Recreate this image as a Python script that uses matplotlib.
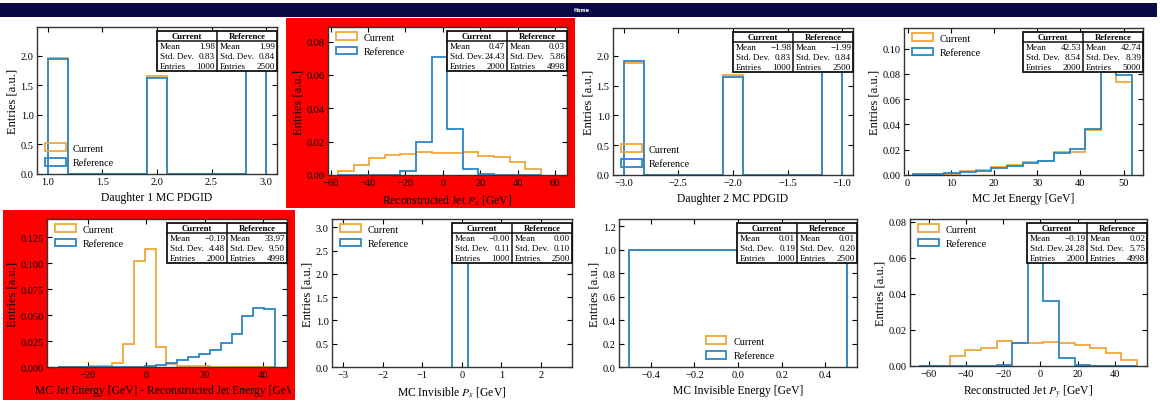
import matplotlib.pyplot as plt
from matplotlib.patches import Rectangle
from matplotlib.transforms import Bbox, TransformedBbox

plt.rcParams['font.family'] = ['Liberation Serif', 'DejaVu Serif']
plt.rcParams['mathtext.fontset'] = 'stix'

W, H = 1160, 402
ORANGE = '#F0A83A'
BLUE = '#2B86C5'

# --- datos de los histogramas (densidad) ---
pdg1_edges = [1.0, 1.182, 1.364, 1.545, 1.727, 1.909, 2.091, 2.273, 2.455, 2.636, 2.818, 3.0]
pdg1_cur = [1.97, 0, 0, 0, 0, 1.66, 0, 0, 0, 0, 1.87]
pdg1_ref = [1.95, 0, 0, 0, 0, 1.63, 0, 0, 0, 0, 1.92]

px_edges = [-56.1, -47.75, -39.4, -31.05, -22.7, -14.35, -6.0, 2.35, 10.7, 19.05, 27.4, 35.75, 44.1, 52.45]
px_cur = [0.0022, 0.0062, 0.0102, 0.0120, 0.0126, 0.0140, 0.0130, 0.0134, 0.0136, 0.0116, 0.0110, 0.0076, 0.0036]
px_ref = [0, 0, 0, 0.0002, 0.0026, 0.0195, 0.0710, 0.0275, 0.0035, 0.0003, 0, 0, 0]

pdg2_edges = [-3.0, -2.818, -2.636, -2.455, -2.273, -2.091, -1.909, -1.727, -1.545, -1.364, -1.182, -1.0]
pdg2_cur = [1.87, 0, 0, 0, 0, 1.675, 0, 0, 0, 0, 1.965]
pdg2_ref = [1.92, 0, 0, 0, 0, 1.64, 0, 0, 0, 0, 1.95]

ejet_edges = [1.3, 4.9, 8.5, 12.2, 15.8, 19.4, 23.0, 26.6, 30.2, 33.8, 37.5, 41.1, 44.7, 48.3, 51.9]
ejet_cur = [0.0003, 0.0004, 0.0010, 0.0030, 0.0036, 0.0062, 0.0082, 0.0102, 0.0110, 0.0180, 0.0180, 0.0355, 0.0889, 0.0735]
ejet_ref = [0.0005, 0.0004, 0.0014, 0.0024, 0.0033, 0.0056, 0.0072, 0.0092, 0.0113, 0.0172, 0.0205, 0.0368, 0.0860, 0.0790]

diff_edges = [-30.4, -26.7, -22.9, -19.2, -15.5, -11.8, -8.0, -4.3, -0.6, 3.2, 6.9,
              10.6, 14.3, 18.0, 21.8, 25.5, 29.2, 32.9, 36.7, 40.4, 44.1]
diff_cur = [0.0002, 0.0003, 0.0004, 0.0006, 0.0012, 0.0042, 0.0220, 0.1020, 0.1140, 0.0195,
            0.0025, 0.0012, 0.0006, 0.0005, 0.0004, 0.0004, 0.0002, 0.0002, 0.0001, 0.0001]
diff_ref = [0, 0, 0, 0, 0, 0, 0, 0, 0.0005, 0.0020,
            0.0040, 0.0065, 0.0095, 0.0130, 0.0160, 0.0235, 0.0320, 0.0490, 0.0570, 0.0560]

invpx_edges = [-0.25, 0.15]
invpx_cur = [2.5]
invpx_ref = [2.5]

inve_edges = [-0.5, 0.5]
inve_cur = [1.0]
inve_ref = [1.0]

py_edges = [-65.6, -57.2, -48.8, -40.4, -32.0, -23.6, -15.2, -6.8, 1.6, 10.0, 18.4, 26.8, 35.2, 43.6, 52.0]
py_cur = [0, 0, 0.0055, 0.0087, 0.0100, 0.0136, 0.0127, 0.0128, 0.0133, 0.0130, 0.0116, 0.0101, 0.0070, 0.0033]
py_ref = [0, 0, 0, 0, 0, 0.0008, 0.0127, 0.0660, 0.0363, 0.0044, 0.0005, 0, 0, 0]

# estadisticas (media, desviacion, entradas)
stats_labels = ['Mean', 'Std. Dev.', 'Entries']
stats_cur = [['1.98', '0.83', '1000'], ['0.47', '24.43', '2000'], ['-1.98', '0.83', '1000'],
             ['42.53', '8.54', '2000'], ['-0.19', '4.48', '2000'], ['-0.00', '0.11', '1000'],
             ['0.01', '0.19', '1000'], ['-0.19', '24.28', '2000']]
stats_ref = [['1.99', '0.84', '2500'], ['0.03', '5.86', '4998'], ['-1.99', '0.84', '2500'],
             ['42.74', '8.39', '5000'], ['33.97', '9.50', '4998'], ['0.00', '0.10', '2500'],
             ['0.01', '0.20', '2500'], ['0.02', '5.75', '4998']]

xlabels = ['Daughter 1 MC PDGID', r'Reconstructed Jet $P_x$ [GeV]', 'Daughter 2 MC PDGID',
           'MC Jet Energy [GeV]', 'MC Jet Energy [GeV] - Reconstructed Jet Energy [GeV]',
           r'MC Invisible $P_x$ [GeV]', 'MC Invisible Energy [GeV]', r'Reconstructed Jet $P_y$ [GeV]']

hists = [(pdg1_edges, pdg1_cur, pdg1_ref), (px_edges, px_cur, px_ref),
         (pdg2_edges, pdg2_cur, pdg2_ref), (ejet_edges, ejet_cur, ejet_ref),
         (diff_edges, diff_cur, diff_ref), (invpx_edges, invpx_cur, invpx_ref),
         (inve_edges, inve_cur, inve_ref), (py_edges, py_cur, py_ref)]

# caja de cada eje en pixeles: izquierda, derecha, arriba, abajo
boxes = [(37, 277, 28, 175), (328, 567, 28, 176), (613, 853, 29, 176), (904, 1143, 29, 176),
         (47, 287, 220, 368), (332, 572, 220, 368), (619, 857, 220, 368), (910, 1147, 220, 367)]
xlims = [(0.9, 3.1), (-61.4, 66.4), (-3.098, -0.902), (-0.85, 54.5),
         (-34.0, 48.2), (-3.29, 2.79), (-0.546, 0.546), (-70.2, 57.4)]
ylims = [2.49, 0.0887, 2.465, 0.1164, 0.1427, 3.18, 1.263, 0.0815]
legend_locs = ['lower left', 'upper left', 'lower left', 'upper left',
               'upper left', 'upper left', 'lower center', 'upper left']

fig = plt.figure(figsize=(W / 100, H / 100), dpi=100)
fig.patch.set_facecolor('white')


def fig_rect(x0, y0, x1, y1):
    # pixeles (origen arriba-izquierda) -> fraccion de figura
    return [x0 / W, 1 - y1 / H, (x1 - x0) / W, (y1 - y0) / H]


# barra de navegacion
r = fig_rect(0, 4, 1157, 18)
fig.patches.append(Rectangle((r[0], r[1]), r[2], r[3], transform=fig.transFigure,
                             fc='#080a45', ec='none', zorder=-1))
fig.text(582 / W, 1 - 10 / H, 'Home', color='white', fontsize=3.5, ha='center', va='center',
         family='DejaVu Sans', fontweight='bold')

# fondos rojos (paneles con diferencias)
for (x0, y0, x1, y1) in [(286, 19, 575, 209), (3, 211, 295, 401)]:
    r = fig_rect(x0, y0, x1, y1)
    fig.patches.append(Rectangle((r[0], r[1]), r[2], r[3], transform=fig.transFigure,
                                 fc='#FF0000', ec='none', zorder=-1))


def stats_table(ax, cur, ref):
    bb = ax.get_position()
    w, h = 120 / W, 40 / H
    tax = fig.add_axes([bb.x1 - w, bb.y1 - 4 / H - h, w, h], zorder=5)
    tax.set_xlim(0, 1)
    tax.set_ylim(0, 1)
    tax.axis('off')
    tax.add_patch(Rectangle((0, 0), 1, 1, fc='white', ec='#111111', lw=1.3, clip_on=False))
    tax.plot([0.5, 0.5], [0, 1], color='#111111', lw=1.1, clip_on=False)
    tax.plot([0, 1], [0.75, 0.75], color='#111111', lw=1.1, clip_on=False)
    tax.text(0.25, 0.875, 'Current', ha='center', va='center', fontsize=6.3, fontweight='bold')
    tax.text(0.75, 0.875, 'Reference', ha='center', va='center', fontsize=6.3, fontweight='bold')
    for i, lab in enumerate(stats_labels):
        y = 0.625 - 0.25 * i
        tax.text(0.025, y, lab, ha='left', va='center', fontsize=6.6)
        tax.text(0.485, y, cur[i].replace('-', '\u2212'), ha='right', va='center', fontsize=6.6)
        tax.text(0.525, y, lab, ha='left', va='center', fontsize=6.6)
        tax.text(0.985, y, ref[i].replace('-', '\u2212'), ha='right', va='center', fontsize=6.6)


leg_kw = dict(frameon=False, fontsize=7.3, handlelength=2.05, handleheight=0.8,
              labelspacing=0.5, handletextpad=0.7, borderaxespad=0.4)

for k in range(8):
    x0, x1, y0, y1 = boxes[k]
    ax = fig.add_axes(fig_rect(x0, y0, x1, y1), zorder=1)
    ax.set_facecolor('white')
    edges, cur, ref = hists[k]
    ax.hist(edges[:-1], bins=edges, weights=cur, histtype='step', color=ORANGE, lw=1.3, label='Current')
    ax.hist(edges[:-1], bins=edges, weights=ref, histtype='step', color=BLUE, lw=1.3, label='Reference')
    ax.set_xlim(*xlims[k])
    ax.set_ylim(0, ylims[k])
    ax.tick_params(direction='in', top=True, right=True, length=3.5, width=0.8,
                   labelsize=7.5, pad=2.5)
    for s in ax.spines.values():
        s.set_color('#333333')
        s.set_linewidth(1.0)
    ax.set_ylabel('Entries [a.u.]', fontsize=9, labelpad=1.5)
    lab = ax.set_xlabel(xlabels[k], fontsize=8.4, labelpad=3)
    if k == 4:
        # la etiqueta se corta en el borde del panel
        lab.set_clip_on(True)
        lab.set_clip_box(TransformedBbox(Bbox.from_extents(0, 0, 291 / W, 1), fig.transFigure))
    if legend_locs[k] == 'lower left':
        ax.legend(loc='lower left', bbox_to_anchor=(0.0, -0.01), **leg_kw)
    elif legend_locs[k] == 'lower center':
        ax.legend(loc='lower left', bbox_to_anchor=(0.33, -0.01), **leg_kw)
    else:
        ax.legend(loc='upper left', bbox_to_anchor=(0.0, 1.02), **leg_kw)
    stats_table(ax, stats_cur[k], stats_ref[k])

plt.savefig('out.png', dpi=100)
